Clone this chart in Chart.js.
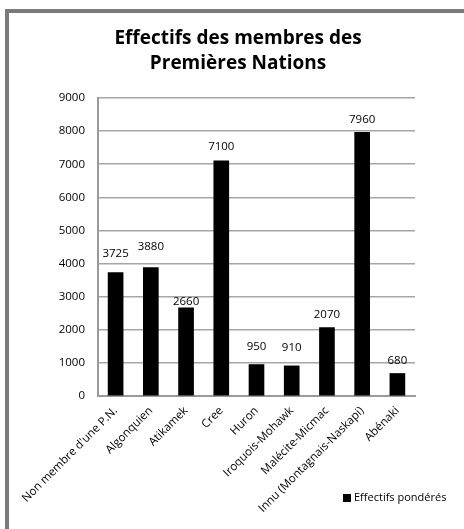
<!DOCTYPE html>
<html>
<head>
<meta charset="utf-8">
<script src="https://cdn.jsdelivr.net/npm/chart.js@4/dist/chart.umd.min.js"></script>
<style>
  html, body { margin: 0; padding: 0; background: #ffffff; }
  #wrap { position: relative; width: 464px; height: 529px; }
</style>
</head>
<body>
<div id="wrap"><canvas id="c" width="464" height="529"></canvas></div>
<script>
const titleLines = ["Effectifs des membres des", "Premières Nations"];
const categories = [
  "Non membre d'une P.N.",
  "Algonquien",
  "Atikamek",
  "Cree",
  "Huron",
  "Iroquois-Mohawk",
  "Malécite-Micmac",
  "Innu (Montagnais-Naskapi)",
  "Abénaki"
];
const seriesName = "Effectifs pondérés";
const effectifs = [3725, 3880, 2660, 7100, 950, 910, 2070, 7960, 680];
const yTicks = [0, 1000, 2000, 3000, 4000, 5000, 6000, 7000, 8000, 9000];

// style: how far (px) each value label sits above its bar
const labelLift = [19, 21, 6, 14, 18, 18, 13, 13, 13];

const FONT = "'Open Sans', 'DejaVu Sans', sans-serif";

const framePlugin = {
  id: 'frame',
  afterLayout(chart) {
    // centre the title over the framed box rather than the padded area
    if (chart.titleBlock) {
      chart.titleBlock.left = 12;
      chart.titleBlock.right = 464;
    }
  },
  beforeDraw(chart) {
    const ctx = chart.ctx;
    ctx.save();
    ctx.fillStyle = '#ffffff';
    ctx.fillRect(0, 0, chart.width, chart.height);
    ctx.strokeStyle = '#7a7a7a';
    ctx.lineWidth = 4;
    ctx.beginPath();
    ctx.moveTo(7, chart.height);
    ctx.lineTo(7, 11);
    ctx.lineTo(chart.width, 11);
    ctx.stroke();
    ctx.restore();
  }
};

const valueLabelPlugin = {
  id: 'valueLabels',
  afterDatasetsDraw(chart) {
    const ctx = chart.ctx;
    const meta = chart.getDatasetMeta(0);
    const data = chart.data.datasets[0].data;
    ctx.save();
    ctx.font = "11.5px " + FONT;
    ctx.fillStyle = '#000000';
    ctx.textAlign = 'center';
    ctx.textBaseline = 'middle';
    meta.data.forEach((bar, i) => {
      ctx.fillText(String(data[i]), bar.x, bar.y - labelLift[i]);
    });
    ctx.restore();
  }
};

const legendPlugin = {
  id: 'customLegend',
  afterDraw(chart) {
    const ctx = chart.ctx;
    const ds = chart.data.datasets[0];
    ctx.save();
    ctx.fillStyle = ds.backgroundColor;
    ctx.fillRect(343, 494, 8, 8);
    ctx.font = "11px " + FONT;
    ctx.fillStyle = '#000000';
    ctx.textAlign = 'left';
    ctx.textBaseline = 'middle';
    ctx.fillText(ds.label, 354, 498);
    ctx.restore();
  }
};

new Chart(document.getElementById('c'), {
  type: 'bar',
  data: {
    labels: categories,
    datasets: [{
      label: seriesName,
      data: effectifs,
      backgroundColor: '#000000',
      borderWidth: 0,
      barThickness: 15
    }]
  },
  options: {
    responsive: false,
    animation: false,
    devicePixelRatio: 1,
    layout: { padding: { top: 0, left: 10, right: 49, bottom: 0 } },
    plugins: {
      legend: { display: false },
      tooltip: { enabled: false },
      title: {
        display: true,
        text: titleLines,
        color: '#000000',
        font: { family: FONT, size: 19, weight: 'bold', lineHeight: 25 / 19 },
        padding: { top: 26, bottom: 22 }
      }
    },
    scales: {
      x: {
        grid: { display: false, drawTicks: false },
        border: { display: true, color: '#9a9a9a', width: 2 },
        ticks: {
          color: '#000000',
          font: { family: FONT, size: 11.5 },
          maxRotation: 45,
          minRotation: 45,
          autoSkip: false,
          padding: 8
        },
        afterFit(scale) { scale.height = 133; }
      },
      y: {
        min: 0,
        max: 9000,
        afterBuildTicks(scale) { scale.ticks = yTicks.map(v => ({ value: v })); },
        grid: { color: '#a6a6a6', lineWidth: 1.5, drawTicks: false },
        border: { display: true, color: '#9a9a9a', width: 2 },
        ticks: {
          color: '#000000',
          font: { family: FONT, size: 11.5 },
          padding: 13,
          callback: (v) => String(v)
        },
        afterFit(scale) { scale.width = 88; }
      }
    }
  },
  plugins: [framePlugin, valueLabelPlugin, legendPlugin]
});
</script>
</body>
</html>
